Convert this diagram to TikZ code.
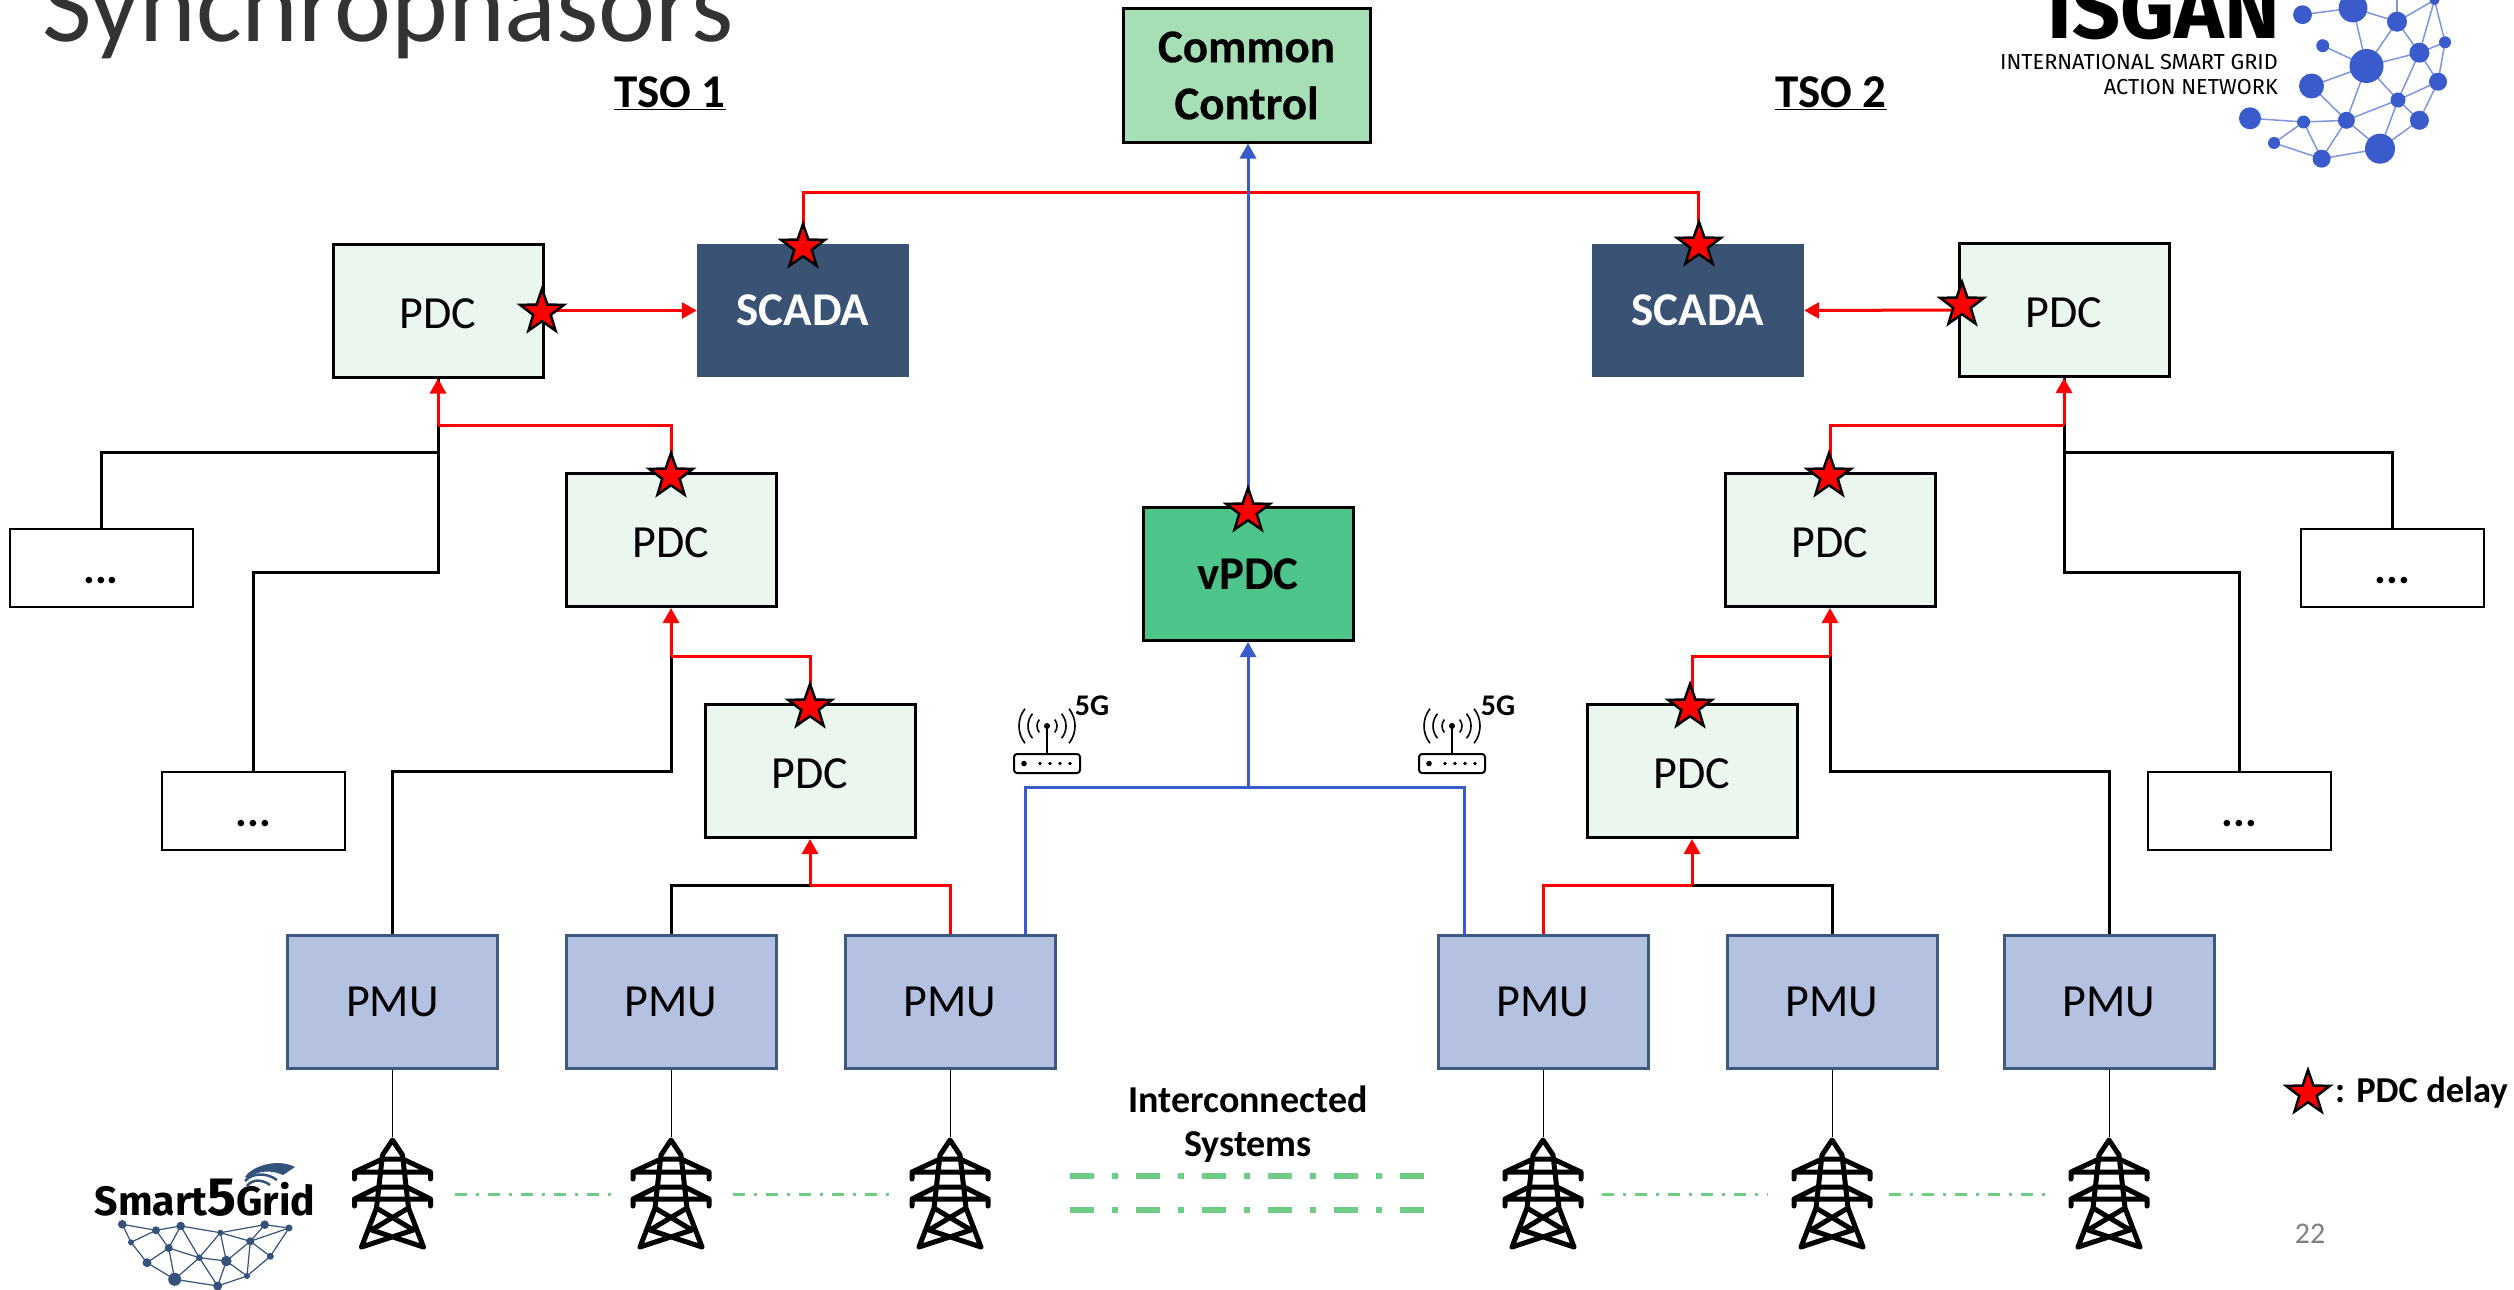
\documentclass[tikz,border=0pt]{standalone}
\usepackage{fontspec}
\setmainfont{Carlito}
\newfontfamily\firafont{Fira Sans}
\newfontfamily\heavyfont[FakeBold=0.4]{Carlito Bold}
\usetikzlibrary{arrows.meta,shapes.geometric,calc}
\definecolor{pdcfill}{HTML}{EBF6EF}
\definecolor{vpdcfill}{HTML}{4DC58A}
\definecolor{commonfill}{HTML}{A6DFB6}
\definecolor{scadafill}{HTML}{3A5374}
\definecolor{pmufill}{HTML}{B4C1E0}
\definecolor{pmuline}{HTML}{3F5A80}
\definecolor{bluelink}{HTML}{3A5BCB}
\definecolor{bluethin}{HTML}{7F95DF}
\definecolor{greenlink}{HTML}{6FCC85}
\definecolor{s5blue}{HTML}{34527A}
\newcommand{\pdclabel}{\smash{\raisebox{-17.5pt}{PDC}}}
\newcommand{\dotslabel}{\smash{\raisebox{-15.5pt}{...}}}
\tikzset{
  x=1pt,y=-1pt,
  box/.style={rectangle,draw=black,line width=3pt,inner sep=0pt,minimum width=210pt,minimum height=133pt,font=\fontsize{46}{55}\selectfont},
  pdcbox/.style={box,fill=pdcfill},
  vpdcbox/.style={box,fill=vpdcfill,font=\fontsize{47}{55}\selectfont\bfseries},
  commonbox/.style={box,fill=commonfill,minimum width=247pt,align=center,font=\fontsize{47}{57}\selectfont\heavyfont},
  scadabox/.style={rectangle,fill=scadafill,text=white,inner sep=0pt,minimum width=212pt,minimum height=133pt,font=\fontsize{47}{55}\selectfont\bfseries},
  pmubox/.style={box,fill=pmufill,draw=pmuline},
  dotsbox/.style={rectangle,draw=black,line width=2pt,fill=white,inner sep=0pt,minimum width=183pt,minimum height=78pt,font=\fontsize{44}{50}\selectfont\bfseries},
  delaystar/.style={star,star points=5,star point ratio=2.5,fill=red,draw=black,line width=2.5pt,inner sep=0pt,minimum size=46pt},
  redlink/.style={draw=red,line width=3pt},
  blacklink/.style={draw=black,line width=3pt},
  bluepath/.style={draw=bluelink,line width=3pt},
  tip/.style={-{Triangle[length=15pt,width=16pt]}},
  thinlink/.style={draw=black,line width=1pt},
  smalldash/.style={draw=greenlink,line width=3pt,dash pattern=on 12pt off 9pt on 3pt off 9pt},
  bigdash/.style={draw=greenlink,line width=6pt,dash pattern=on 24pt off 18pt on 6pt off 18pt},
  label/.style={inner sep=0pt,font=\fontsize{47}{55}\selectfont\bfseries},
  tower/.pic={
    \draw[line width=5pt,line join=round,line cap=round]
      (-10,18) -- (0,3) -- (10,18)
      (-10,18) -- (-16,71) -- (-31,110)
      (10,18) -- (16,71) -- (31,110)
      (-10,22) -- (10,22)  (-14,50) -- (14,50)
      (-10,22) -- (-38,35) -- (-38,42) (-38,35) -- (38,35) (38,42) -- (38,35) -- (10,22)
      (-14,50) -- (-38,62) -- (-38,69) (-38,62) -- (38,62) (38,69) -- (38,62) -- (14,50)
      (-16,71) -- (21,93) -- (-31,110)
      (16,71) -- (-21,93) -- (31,110);
  },
  router/.pic={
    \draw[line width=2pt,rounded corners=3pt] (-33,28) rectangle (33,47);
    \fill (-23,37.5) circle (2.8);
    \foreach \dx in {-7,3,13,23} \fill (\dx,37.5) circle (1.8);
    \fill (0,0) circle (3);
    \draw[line width=1.6pt] (0,0) -- (0,28);
    \foreach \rr/\aa in {10/40,19/40,28/38} {
      \draw[line width=1.6pt] (\aa:\rr) arc[start angle=\aa,end angle=-\aa,radius=\rr];
      \draw[line width=1.6pt] (180-\aa:\rr) arc[start angle=180-\aa,end angle=180+\aa,radius=\rr];
    }
  }
}
\begin{document}
\begin{tikzpicture}
\useasboundingbox (0,0) rectangle (2514,1290);
\fill[white] (0,0) rectangle (2514,1290);

% Title and headings
\node[anchor=base west,inner sep=0pt,text=black!80,font=\fontsize{108}{110}\selectfont] (title) at (42,42) {Synchrophasors};
\node[label] (tso1) at (670,93) {\underline{TSO 1}};
\node[label] (tso2) at (1831,93) {\underline{TSO 2}};

% Boxes
\node[commonbox,minimum height=133pt] (common) at (1246.5,75.5) {Common\\Control};
\node[vpdcbox] (vpdc) at (1248,574) {vPDC};
\node[pdcbox] (p1) at (438,310.5) {\pdclabel};
\node[pdcbox] (p2) at (671,540) {\pdclabel};
\node[pdcbox] (p3) at (810,771) {\pdclabel};
\node[pdcbox] (p4) at (2064,310) {\pdclabel};
\node[pdcbox] (p5) at (1830,540) {\pdclabel};
\node[pdcbox] (p6) at (1692,771) {\pdclabel};
\node[scadabox] (s1) at (803,310.5) {SCADA};
\node[scadabox] (s2) at (1698,310.5) {SCADA};
\node[pmubox] (m1) at (392.5,1001.5) {PMU};
\node[pmubox] (m2) at (671,1001.5) {PMU};
\node[pmubox] (m3) at (950,1002) {PMU};
\node[pmubox] (m4) at (1543,1001.5) {PMU};
\node[pmubox] (m5) at (1832,1001.5) {PMU};
\node[pmubox] (m6) at (2109,1001.5) {PMU};
\node[dotsbox] (d1) at (101,567.5) {\dotslabel};
\node[dotsbox] (d2) at (253.5,811) {\dotslabel};
\node[dotsbox] (d3) at (2392.5,567.5) {\dotslabel};
\node[dotsbox] (d4) at (2239.5,811) {\dotslabel};

% Junctions
\coordinate (j1) at (438,425);
\coordinate (j2) at (438,452);
\coordinate (j3) at (438,572);
\coordinate (j4) at (671,656);
\coordinate (j5) at (810,885);
\coordinate (j6) at (2064,425);
\coordinate (j7) at (2064,452);
\coordinate (j8) at (2064,572);
\coordinate (j9) at (1830,656);
\coordinate (j10) at (1692,885);
\coordinate (jb) at (1248,787);
\coordinate (jt) at (1248,192);
\coordinate (mb3) at (1025,935);
\coordinate (mb4) at (1464,935);

% Black links
\draw[blacklink] (p1.south) -- (j3) -| (d2.north);
\draw[blacklink] (j2) -| (d1.north);
\draw[blacklink] (p4.south) -- (j8) -| (d4.north);
\draw[blacklink] (j7) -| (d3.north);
\draw[blacklink] (j4) |- (392.5,771) -- (m1.north);
\draw[blacklink] (j9) |- (2109,771) -- (m6.north);
\draw[blacklink] (j5) -| (m2.north);
\draw[blacklink] (j10) -| (m5.north);

% Red links
\draw[redlink] (s1.north) |- (jt) -| (s2.north);
\draw[redlink,tip] (j1) -- (p1.south);
\draw[redlink] (j1) -| (p2.north);
\draw[redlink,tip] (j4) -- (p2.south);
\draw[redlink] (j4) -| (p3.north);
\draw[redlink,tip] (j5) -- (p3.south);
\draw[redlink] (j5) -| (m3.north);
\draw[redlink,tip] (j6) -- (p4.south);
\draw[redlink] (j6) -| (p5.north);
\draw[redlink,tip] (j9) -- (p5.south);
\draw[redlink] (j9) -| (p6.north);
\draw[redlink,tip] (j10) -- (p6.south);
\draw[redlink] (j10) -| (m4.north);
\draw[redlink,tip] (p1.east) -- (s1.west);
\draw[redlink,tip] (p4.west) -- (s2.east);

% Blue links
\draw[bluepath] (mb3) |- (jb) -| (mb4);
\draw[bluepath,tip,fill=bluelink] (jb) -- (vpdc.south);
\draw[bluepath,tip,fill=bluelink] (vpdc.north) -- (vpdc.north |- common.south);

% Stars
\node[delaystar] (st1) at (542,312) {};
\node[delaystar] (st2) at (803,247) {};
\node[delaystar] (st3) at (1699,245) {};
\node[delaystar] (st4) at (1962,305) {};
\node[delaystar] (st5) at (671,476) {};
\node[delaystar] (st6) at (810,707) {};
\node[delaystar] (st7) at (1248,511) {};
\node[delaystar] (st8) at (1829,476) {};
\node[delaystar] (st9) at (1690,707) {};
\node[delaystar] (st10) at (2308,1093) {};
\node[anchor=west,inner sep=0pt,font=\fontsize{36.5}{40}\selectfont\bfseries] (legend) at (2335,1093) {: PDC delay};

% Routers
\coordinate (r1) at (1047,726);
\coordinate (r2) at (1452,726);
\pic at (r1) {router};
\pic at (r2) {router};
\node[inner sep=0pt,font=\fontsize{30}{34}\selectfont\bfseries] (g1) at (1092,706) {5G};
\node[inner sep=0pt,font=\fontsize{30}{34}\selectfont\bfseries] (g2) at (1498,706) {5G};

% Towers
\coordinate (t1) at (392.5,1137);
\coordinate (t2) at (671,1137);
\coordinate (t3) at (950,1137);
\coordinate (t4) at (1543,1137);
\coordinate (t5) at (1832,1137);
\coordinate (t6) at (2109,1137);
\foreach \tw in {t1,t2,t3,t4,t5,t6} \pic at (\tw) {tower};
\draw[thinlink] (m1.south) -- (t1);
\draw[thinlink] (m2.south) -- (t2);
\draw[thinlink] (m3.south) -- (t3);
\draw[thinlink] (m4.south) -- (t4);
\draw[thinlink] (m5.south) -- (t5);
\draw[thinlink] (m6.south) -- (t6);
\draw[smalldash] ($(t1)+(62,57)$) -- ($(t2)+(-57,57)$);
\draw[smalldash] ($(t2)+(62,57)$) -- ($(t3)+(-58,57)$);
\draw[smalldash] ($(t4)+(59,57)$) -- ($(t5)+(-64,57)$);
\draw[smalldash] ($(t5)+(57,57)$) -- ($(t6)+(-60,57)$);

% Interconnected systems
\node[inner sep=0pt,align=center,font=\fontsize{38}{44}\selectfont\bfseries] (ics) at (1248,1124) {Interconnected\\Systems};
\coordinate (ga) at (1070,1176);
\coordinate (gb) at (1424,1176);
\coordinate (gc) at (1070,1210);
\coordinate (gd) at (1424,1210);
\draw[bigdash] (ga) -- (gb);
\draw[bigdash] (gc) -- (gd);
\node[inner sep=0pt,text=black!50,font=\fontsize{30}{34}\selectfont] (pageno) at (2310,1234) {22};

% ISGAN logo
\node[anchor=base east,inner sep=0pt,font=\firafont\fontsize{84}{85}\selectfont\bfseries] (isgan) at (2280,39) {ISGAN};
\node[anchor=base east,inner sep=0pt,font=\firafont\fontsize{21.7}{25}\selectfont] (isg1) at (2278,70) {INTERNATIONAL SMART GRID};
\node[anchor=base east,inner sep=0pt,font=\firafont\fontsize{21.7}{25}\selectfont] (isg2) at (2278,95) {ACTION NETWORK};
\foreach \n/\xx/\yy in {a/2302.5/14.7,b/2353/8,c/2397/21.7,d/2434.5/0,e/2322.7/45.7,f/2366.5/66,g/2419.4/52.7,h/2445/42.3,i/2311.5/86,j/2438/81.7,k/2398/100,l/2250/118.3,m/2303.6/122,n/2346.4/120.3,o/2419.4/120.3,p/2274/143,q/2321.6/158.7,r/2380/148.7}
  \coordinate (I\n) at (\xx,\yy);
\foreach \p/\q in {a/b,b/c,b/f,c/f,c/d,c/g,d/g,d/h,g/h,g/f,h/j,g/j,g/k,e/f,i/f,f/k,f/n,i/n,j/k,j/o,k/o,k/n,k/r,n/r,n/m,l/m,m/p,m/q,n/q,p/q,q/r,r/o}
  \draw[bluethin,line width=1.5pt] (I\p) -- (I\q);
\draw[bluethin,line width=1.5pt] (Ic) -- (2397,0);
\foreach \n/\rr in {a/9.4,b/14.4,c/10,d/5,e/6.5,f/17,g/10,h/6,i/12.5,j/9,k/7.5,l/11,m/6.5,n/8.5,o/9.5,p/6,q/9,r/15}
  \fill[bluelink] (I\n) circle (\rr);

% Smart5Grid logo
\node[anchor=base,inner sep=0pt,font=\firafont\fontsize{41}{48}\selectfont\bfseries] (s5g) at (205,1215) {Smart{\fontsize{54}{54}\selectfont 5}Grid};
\fill[s5blue] (245,1177) .. controls (250,1168) and (275,1157) .. (295,1167) -- (283,1175) .. controls (272,1170) and (258,1170) .. (248,1178) -- cycle;
\draw[s5blue,line width=2.5pt] (245,1181) .. controls (252,1173) and (266,1172) .. (277,1180);
\draw[s5blue,line width=2.5pt] (247,1186) .. controls (252,1179) and (262,1179) .. (270,1185);
\foreach \n/\xx/\yy in {1/122.3/1224.3,2/156/1230.3,3/180.7/1226,4/220.3/1232.7,5/264.7/1224.7,6/289/1228,7/131/1242.3,8/168.7/1248,9/250.3/1241.3,10/199.3/1257.7,11/226.3/1261,12/270.3/1256.3,13/147/1262.7,14/174.7/1279.3,15/247/1276,16/217.7/1286}
  \coordinate (S\n) at (\xx,\yy);
\foreach \p/\q in {1/2,2/3,3/4,4/5,5/6,1/7,7/2,2/8,3/8,3/10,4/10,4/11,4/9,5/9,6/9,6/12,9/11,9/12,9/15,12/15,11/15,11/16,7/13,8/13,13/14,8/14,8/10,10/11,10/14,10/16,14/16,15/16}
  \draw[s5blue,line width=1.2pt] (S\p) -- (S\q);
\foreach \n/\rr in {1/4.3,2/4,3/4.3,4/3,5/4.3,6/3.5,7/3,8/4,9/4,10/3.3,11/5.3,12/3.5,13/4.5,14/6.5,15/3,16/4.5}
  \fill[s5blue] (S\n) circle (\rr);
\end{tikzpicture}
\end{document}
